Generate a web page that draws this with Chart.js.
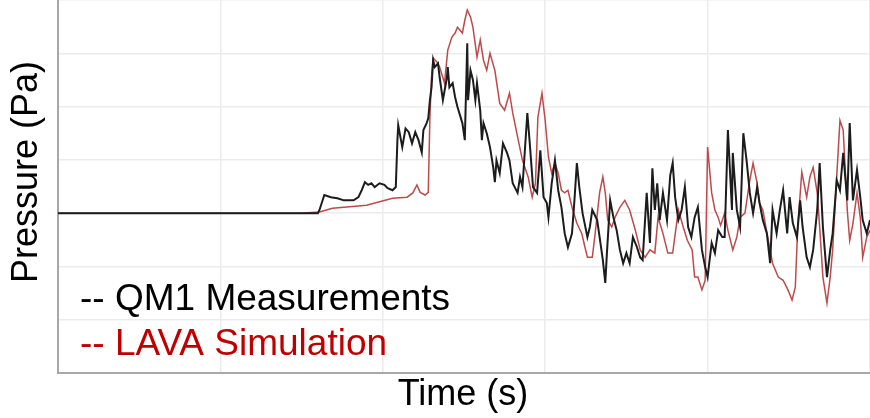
<!DOCTYPE html>
<html lang="en">
<head>
    <meta charset="UTF-8">
    <title>Pressure vs Time</title>
    <script src="https://cdn.jsdelivr.net/npm/chart.js"></script>
    <style>
        html, body { margin: 0; padding: 0; background: #ffffff; }
        #wrap { width: 870px; height: 418px; position: relative; }
    </style>
</head>
<body>
    <div id="wrap"><canvas id="grafico" width="870" height="418"></canvas></div>

    <script>
        // QM1 measurements (time in s, pressure in Pa)
        const qmTime = [0, 16.0, 16.1, 16.4, 16.8, 17.2, 17.6, 18.2, 18.5, 18.7, 18.9, 19.1, 19.3, 19.5, 19.8, 20.1, 20.3, 20.6, 20.8, 20.9, 20.95, 21.2, 21.4, 21.6, 21.8, 22.0, 22.2, 22.4, 22.5, 22.7, 22.8, 22.9, 23.0, 23.1, 23.2, 23.4, 23.5, 23.7, 23.95, 24.0, 24.1, 24.3, 24.45, 24.6, 24.9, 25.05, 25.2, 25.25, 25.4, 25.55, 25.7, 25.8, 26.0, 26.1, 26.2, 26.4, 26.6, 26.8, 26.9, 27.0, 27.2, 27.4, 27.65, 27.8, 28.0, 28.3, 28.45, 28.6, 28.9, 29.05, 29.25, 29.5, 29.7, 29.9, 30.1, 30.2, 30.4, 30.6, 30.8, 31.0, 31.2, 31.4, 31.65, 31.8, 31.95, 32.1, 32.3, 32.6, 32.75, 32.9, 33.2, 33.4, 33.55, 33.7, 33.8, 34.0, 34.2, 34.4, 34.6, 34.8, 35.0, 35.2, 35.4, 35.65, 35.85, 36.0, 36.25, 36.45, 36.6, 36.75, 36.9, 37.05, 37.25, 37.5, 37.7, 37.85, 38.0, 38.2, 38.4, 38.6, 38.8, 39.0, 39.2, 39.4, 39.65, 39.85, 40.0, 40.25, 40.45, 40.65, 40.9, 41.05, 41.25, 41.5, 41.55, 41.8, 42.0, 42.2, 42.4, 42.6, 42.8, 43.05, 43.2, 43.4, 43.65, 43.85, 44.0, 44.25, 44.45, 44.65, 44.9, 45.05, 45.25, 45.5, 45.7, 45.85, 46.1, 46.3, 46.5, 46.75, 46.9, 47.1, 47.35, 47.55, 47.7, 47.95, 48.15, 48.35, 48.6, 48.75, 48.95, 49.2, 49.4, 49.55, 49.8, 50.0];
        const qmValue = [0, 0, 0.6, 3.4, 3.0, 2.8, 2.4, 2.4, 3.0, 4.3, 5.8, 5.3, 5.6, 4.9, 5.6, 5.3, 4.7, 4.3, 4.9, 13.7, 16.5, 12.4, 15.9, 15.2, 13.1, 15.2, 13.7, 11.4, 15.6, 16.9, 17.8, 21.2, 23.6, 28.7, 27.4, 28.1, 25.5, 21.2, 25.5, 27.4, 23.6, 24.4, 21.8, 19.9, 16.9, 13.7, 31.9, 21.2, 26.8, 25.0, 21.2, 24.4, 19.3, 13.7, 16.9, 15.0, 12.4, 8.6, 5.8, 9.9, 7.5, 13.1, 11.3, 9.9, 5.6, 3.8, 6.8, 4.9, 18.8, 13.1, 4.9, 3.8, 11.8, 3.0, 1.9, -0.8, 5.6, 9.9, 4.3, 1.1, -3.8, -6.4, -3.8, 2.4, 9.4, 4.9, 0, -4.5, -2.6, 0.6, -1.3, -5.6, -8.8, -13.1, -7.5, 2.4, -0.8, -3.2, -6.9, -9.4, -7.5, -9.4, -4.5, -6.4, -8.3, -8.8, 3.8, -5.6, 8.4, 0.6, 5.6, -1.3, 3.8, -1.3, 7.1, 9.4, 3.0, -1.3, 0.6, 4.9, -2.6, -4.5, -0.8, 1.1, -6.9, -10.1, -12.0, -5.6, -7.5, -3.2, -4.5, -4.5, 15.6, 0.6, 11.3, 0.6, -2.6, 15.0, 9.9, 3.8, 0, 4.9, 1.9, -1.3, -3.8, -9.4, 0.6, -3.8, 0.6, 4.3, -3.8, 3.0, -1.9, -4.5, 2.4, -2.6, -8.3, -10.1, -6.9, 0.6, 9.4, -2.6, -12.0, -6.9, -3.8, 6.2, 4.3, 11.3, 2.4, 16.9, 2.4, 8.1, 3.0, -1.3, -3.8, -1.3];

        // LAVA simulation
        const lavaTime = [0, 14.9, 16.1, 16.9, 19.0, 20.6, 21.5, 21.85, 22.1, 22.3, 22.6, 22.8, 22.9, 23.0, 23.1, 23.35, 23.5, 23.8, 24.0, 24.25, 24.45, 24.6, 24.9, 25.05, 25.2, 25.4, 25.55, 25.8, 26.0, 26.2, 26.4, 26.6, 26.9, 27.2, 27.5, 27.8, 28.0, 28.3, 28.6, 28.95, 29.2, 29.4, 29.55, 29.8, 30.0, 30.2, 30.4, 30.6, 30.8, 31.0, 31.2, 31.4, 31.65, 31.95, 32.25, 32.45, 32.6, 32.9, 33.05, 33.35, 33.55, 33.7, 33.85, 34.1, 34.3, 34.6, 34.9, 35.2, 35.55, 35.85, 36.15, 36.45, 36.75, 36.95, 37.25, 37.55, 37.85, 38.2, 38.5, 38.75, 39.05, 39.2, 39.4, 39.65, 39.85, 40.0, 40.25, 40.45, 40.65, 40.8, 41.05, 41.25, 41.55, 41.8, 42.0, 42.3, 42.6, 42.8, 43.05, 43.2, 43.4, 43.7, 44.0, 44.35, 44.65, 44.95, 45.2, 45.4, 45.55, 45.8, 46.1, 46.3, 46.5, 46.75, 46.9, 47.1, 47.35, 47.55, 47.7, 47.95, 48.15, 48.35, 48.6, 48.75, 48.95, 49.2, 49.4, 49.55, 49.8, 50.0];
        const lavaValue = [0, 0, 0.2, 0.9, 1.5, 2.8, 3.0, 3.8, 5.3, 3.9, 3.4, 3.9, 18.0, 25.5, 29.1, 28.3, 27.4, 24.4, 30.6, 33.0, 33.8, 34.9, 33.8, 36.2, 38.1, 36.8, 34.9, 29.3, 32.5, 28.7, 26.8, 30.0, 26.8, 20.6, 19.3, 22.5, 18.8, 14.3, 9.9, 6.8, 3.0, 5.6, 18.0, 22.5, 17.4, 10.5, 7.5, 9.4, 7.5, 4.3, 3.8, 4.3, 1.1, -1.9, -3.8, -6.4, -8.3, -8.3, -4.5, 3.8, 6.8, 3.8, -1.3, -2.6, -0.8, 1.1, 2.4, 0.6, -3.2, -6.9, -8.3, -6.9, -7.5, -0.8, -3.8, -7.5, -7.5, 0.6, -2.6, -5.1, -6.9, -12.0, -12.0, -14.4, -12.6, 12.4, 3.8, 0.6, -0.8, -2.3, 0, -3.2, -6.9, -4.5, -0.8, 0, 6.2, 9.4, 5.6, 1.9, 0.6, -4.5, -9.4, -12.0, -12.6, -14.4, -16.3, -13.9, -2.6, 7.7, 3.0, 6.8, 8.6, 3.8, -2.6, -12.0, -16.9, -12.0, -6.9, 6.8, 17.4, 15.6, 0.6, -5.1, -1.9, 3.8, -0.8, -8.3, -4.5, -3.2];

        const xGrid = [0, 10, 20, 30, 40, 50];
        const yGrid = [-30, -20, -10, 0, 10, 20, 30, 40];

        const seriesNames = ['-- QM1 Measurements', '-- LAVA Simulation'];
        const xTitle = 'Time (s)';
        const yTitle = 'Pressure (Pa)';

        const toPoints = (t, v) => t.map((x, i) => ({ x: x, y: v[i] }));

        const textoPlugin = {
            id: 'textos',
            afterDraw(chart) {
                const ctx = chart.ctx;
                ctx.save();
                ctx.font = '37px "Liberation Sans", Arial, sans-serif';
                ctx.textAlign = 'left';
                ctx.textBaseline = 'alphabetic';
                ctx.fillStyle = '#000000';
                ctx.fillText(seriesNames[0], 80, 310);
                ctx.fillStyle = '#c00000';
                ctx.fillText(seriesNames[1], 80, 355);

                ctx.font = '36px "Liberation Sans", Arial, sans-serif';
                ctx.fillStyle = '#000000';
                ctx.textAlign = 'center';
                ctx.fillText(xTitle, 463, 405);

                ctx.translate(27, 172);
                ctx.rotate(-Math.PI / 2);
                ctx.textBaseline = 'middle';
                ctx.fillText(yTitle, 0, 0);
                ctx.restore();
            }
        };

        new Chart(document.getElementById('grafico'), {
            type: 'line',
            data: {
                datasets: [{
                    label: seriesNames[0],
                    data: toPoints(qmTime, qmValue),
                    borderColor: '#1c1c1c',
                    borderWidth: 2,
                    pointRadius: 0,
                    tension: 0
                }, {
                    label: seriesNames[1],
                    data: toPoints(lavaTime, lavaValue),
                    borderColor: '#bd4a4c',
                    borderWidth: 1.5,
                    pointRadius: 0,
                    tension: 0
                }]
            },
            options: {
                responsive: false,
                animation: false,
                layout: { padding: 0 },
                plugins: {
                    legend: { display: false },
                    tooltip: { enabled: false }
                },
                scales: {
                    x: {
                        type: 'linear',
                        min: xGrid[0],
                        max: xGrid[xGrid.length - 1],
                        afterBuildTicks: s => { s.ticks = xGrid.map(v => ({ value: v })); },
                        afterFit: s => { s.height = 45; },
                        ticks: { display: false },
                        grid: { color: '#ececec', lineWidth: 1.5, drawTicks: false },
                        border: { color: '#a8a8a8', width: 2 }
                    },
                    y: {
                        min: yGrid[0],
                        max: yGrid[yGrid.length - 1],
                        afterBuildTicks: s => { s.ticks = yGrid.map(v => ({ value: v })); },
                        afterFit: s => { s.width = 58; },
                        ticks: { display: false },
                        grid: { color: '#ececec', lineWidth: 1.5, drawTicks: false },
                        border: { color: '#a8a8a8', width: 2 }
                    }
                }
            },
            plugins: [textoPlugin]
        });
    </script>
</body>
</html>
